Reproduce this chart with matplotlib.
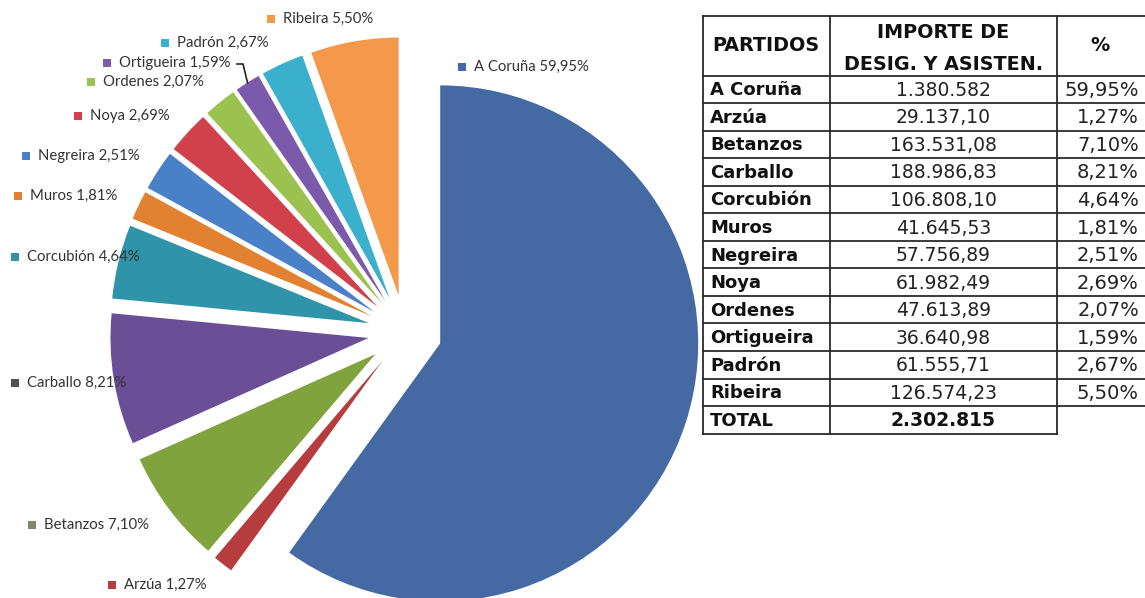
import numpy as np
import matplotlib.pyplot as plt

# datos
partidos = ['A Coruña', 'Arzúa', 'Betanzos', 'Carballo', 'Corcubión', 'Muros',
            'Negreira', 'Noya', 'Ordenes', 'Ortigueira', 'Padrón', 'Ribeira']
importes = [1380582, 29137.10, 163531.08, 188986.83, 106808.10, 41645.53,
            57756.89, 61982.49, 47613.89, 36640.98, 61555.71, 126574.23]
porcentajes = [59.95, 1.27, 7.10, 8.21, 4.64, 1.81, 2.51, 2.69, 2.07, 1.59, 2.67, 5.50]
cabecera = ['PARTIDOS', 'IMPORTE DE', 'DESIG. Y ASISTEN.', '%']

# estilo
colores = ['#4469a3', '#b63c3e', '#80a33e', '#6a4e96', '#2f93a9', '#e2812f',
           '#4a80c7', '#d1414b', '#9bc24f', '#7b5aab', '#3bb0cd', '#f4994a']
colores_clave = list(colores)
colores_clave[2] = '#7d8a70'   # Betanzos key looks greyish
colores_clave[3] = '#505050'   # Carballo key looks dark grey

# posiciones de las etiquetas (cuadro de color), en pixeles
etiquetas_xy = [(462, 67), (112, 585), (32, 525), (15, 383), (15, 257), (18, 196),
                (26, 156), (78, 116), (91, 82), (107, 63), (165, 43), (271, 19)]

W, H = 1145, 598
fig = plt.figure(figsize=(W / 100, H / 100), dpi=100)
ax = fig.add_axes([0, 0, 1, 1])

wedges, _ = ax.pie(importes, colors=colores, startangle=-90, counterclock=True,
                   radius=258, center=(405, 332), explode=[37] * len(importes),
                   wedgeprops=dict(linewidth=0), frame=False)
ax.set_xlim(0, W)
ax.set_ylim(H, 0)
ax.set_aspect('equal')
ax.axis('off')

def es(v, dec=2):
    s = f'{v:,.{dec}f}'
    return s.replace(',', '#').replace('.', ',').replace('#', '.')

# etiquetas del grafico
for i, (x, y) in enumerate(etiquetas_xy):
    ax.scatter([x], [y], marker='s', s=32, color=colores_clave[i], linewidths=0, zorder=3)
    ax.text(x + 12, y, f'{partidos[i]} {es(porcentajes[i])}%', ha='left', va='center',
            fontsize=10.7, family='Lato', color='#333333')

# linea guia de Ortigueira
w = wedges[9]
tm = np.deg2rad((w.theta1 + w.theta2) / 2)
px, py = w.center[0] + w.r * np.cos(tm), w.center[1] + w.r * np.sin(tm)
ax.plot([237, 243, px], [64, 64, py], color='#222222', lw=1.2)

# tabla
cx = [703, 830, 1057, 1152]
y0, hh, rh = 15.5, 60, 27.55
filas = [y0, y0 + hh] + [y0 + hh + (k + 1) * rh for k in range(len(partidos) + 1)]
lc, lw = '#2a2a2a', 1.3
nfil = len(partidos)
for k, y in enumerate(filas):
    xr = cx[3] if k <= nfil + 1 else cx[2]
    ax.plot([cx[0], xr], [y, y], color=lc, lw=lw, solid_capstyle='projecting')
for j, x in enumerate(cx):
    yb = filas[-1] if j < 3 else filas[-2]
    ax.plot([x, x], [filas[0], yb], color=lc, lw=lw)

fs = 13
fh = 13.8
ax.text(712, y0 + hh / 2, cabecera[0], ha='left', va='center', fontsize=fh,
        fontweight='bold', color='#111111')
ax.text((cx[1] + cx[2]) / 2, y0 + 17, cabecera[1], ha='center', va='center',
        fontsize=fh, fontweight='bold', color='#111111')
ax.text((cx[1] + cx[2]) / 2, y0 + 49, cabecera[2], ha='center', va='center',
        fontsize=fh, fontweight='bold', color='#111111')
ax.text(1100, y0 + hh / 2, cabecera[3], ha='center', va='center', fontsize=fh,
        fontweight='bold', color='#111111')

for i, p in enumerate(partidos):
    yc = filas[i + 1] + rh / 2 + 1
    ax.text(710, yc, p, ha='left', va='center', fontsize=fs, fontweight='bold', color='#111111')
    v = importes[i]
    txt = es(v, 0) if float(v).is_integer() else es(v)
    ax.text((cx[1] + cx[2]) / 2, yc, txt, ha='center', va='center', fontsize=fs + 0.5,
            color='#222222')
    ax.text(1139, yc, f'{es(porcentajes[i])}%', ha='right', va='center', fontsize=fs + 1,
            color='#222222')

yc = filas[nfil + 1] + rh / 2 + 1
ax.text(710, yc, 'TOTAL', ha='left', va='center', fontsize=fs, fontweight='bold', color='#111111')
ax.text((cx[1] + cx[2]) / 2, yc, es(round(sum(importes)), 0), ha='center', va='center',
        fontsize=fs + 0.5, fontweight='bold', color='#111111')

fig.savefig('out.png', dpi=100)
